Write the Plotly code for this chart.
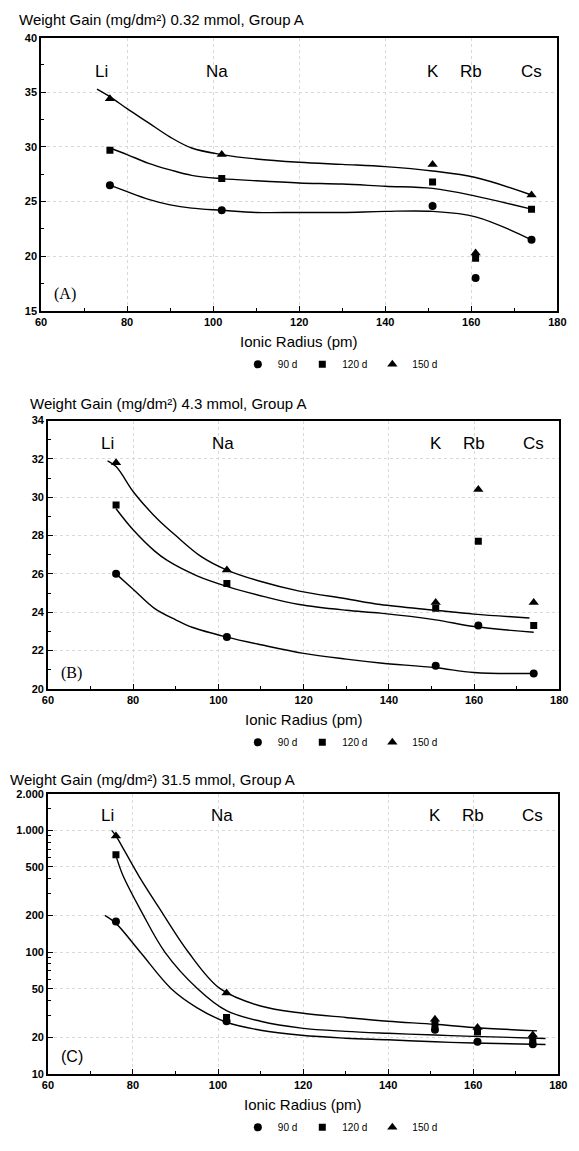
import math
import plotly.graph_objects as go

# ---------------- data ----------------
radius = [76, 102, 151, 161, 174]
elements = ["Li", "Na", "K", "Rb", "Cs"]
series_names = ["90 d", "120 d", "150 d"]
titles = ["Weight Gain (mg/dm²) 0.32 mmol, Group A",
          "Weight Gain (mg/dm²) 4.3 mmol, Group A",
          "Weight Gain (mg/dm²) 31.5 mmol, Group A"]
panel_tags = ["(A)", "(B)", "(C)"]

A_90 = [26.5, 24.2, 24.6, 18.0, 21.5]
A_120 = [29.7, 27.1, 26.8, 19.8, 24.3]
A_150 = [34.4, 29.3, 28.4, 20.3, 25.6]

B_90 = [26.0, 22.7, 21.2, 23.3, 20.8]
B_120 = [29.6, 25.5, 24.2, 27.7, 23.3]
B_150 = [31.8, 26.2, 24.5, 30.4, 24.5]

C_90 = [178, 27, 23, 18.3, 17.5]
C_120 = [630, 29, 25.5, 22, 19.5]
C_150 = [900, 46, 28, 24, 20.8]

# fitted curves
A_fit_x_150 = [73, 76, 80, 85, 90, 95, 102, 110, 120, 130, 140, 151, 161, 174]
A_fit_150 = [35.3, 34.6, 33.5, 32.2, 30.9, 29.9, 29.3, 28.9, 28.6, 28.4, 28.2, 27.8, 27.2, 25.6]
A_fit_x_120 = [76, 80, 85, 90, 95, 102, 110, 120, 130, 140, 151, 161, 174]
A_fit_120 = [29.9, 29.3, 28.5, 27.9, 27.4, 27.1, 26.9, 26.7, 26.6, 26.4, 26.2, 25.5, 24.3]
A_fit_x_90 = [76, 80, 85, 90, 95, 102, 110, 120, 130, 140, 151, 161, 174]
A_fit_90 = [26.5, 25.9, 25.2, 24.7, 24.4, 24.2, 24.0, 24.0, 24.0, 24.1, 24.1, 23.6, 21.5]

B_fit_x_150 = [74, 76, 80, 83, 86, 90, 96, 102, 110, 119, 130, 138, 151, 160, 173]
B_fit_150 = [31.9, 31.6, 30.3, 29.5, 28.8, 28.0, 26.9, 26.2, 25.6, 25.1, 24.7, 24.4, 24.1, 23.9, 23.7]
B_fit_x_120 = [76, 80, 85, 88, 95, 102, 111, 119, 130, 138, 151, 160, 174]
B_fit_120 = [29.4, 28.3, 27.2, 26.7, 25.9, 25.35, 24.8, 24.4, 24.1, 23.95, 23.6, 23.25, 22.95]
B_fit_x_90 = [76, 80, 85, 90, 94, 102, 110, 120, 130, 138, 151, 160, 174]
B_fit_90 = [26.0, 25.2, 24.2, 23.6, 23.2, 22.7, 22.3, 21.85, 21.55, 21.35, 21.1, 20.85, 20.8]

C_fit_x_150 = [75, 76, 78, 81.5, 86, 93, 100.5, 110, 120, 130, 140, 151, 160, 175]
C_fit_150 = [1000, 900, 680, 415, 235, 100, 50, 36, 31.4, 29, 27, 25.5, 24, 22.5]
C_fit_x_120 = [76, 77.6, 82, 87.5, 95.2, 102, 110, 119.6, 130, 140, 151, 160, 177]
C_fit_120 = [620, 430, 215, 100, 50, 33, 27, 23.7, 22.3, 21.5, 20.8, 20.3, 19.5]
C_fit_x_90 = [73.4, 76, 81.7, 89, 95, 102, 110, 119.6, 130, 140, 151, 160, 177]
C_fit_90 = [200, 172, 100, 50, 35, 26.5, 22.8, 20.7, 19.6, 19.0, 18.3, 17.9, 17.4]

C_tickvals = [10, 20, 50, 100, 200, 500, 1000, 2000]
C_ticktext = ["10", "20", "50", "100", "200", "500", "1.000", "2.000"]

# ---------------- layout helpers ----------------
W, H = 579, 1151
def fx(p):
    return p / W
def fy(p):
    return 1 - p / H

# pixel boxes of plot areas: (left, right, top, bottom)
boxes = [(36, 566, 32, 308), (43, 568, 419, 690), (43, 567, 796, 1079)]
title_pos = [(11, 14), (23, 402), (2, 782)]
label_shift = [-2, -1, 0, -1, 0]

points = [(A_90, A_120, A_150), (B_90, B_120, B_150), (C_90, C_120, C_150)]
fits = [((A_fit_x_90, A_fit_90), (A_fit_x_120, A_fit_120), (A_fit_x_150, A_fit_150)),
        ((B_fit_x_90, B_fit_90), (B_fit_x_120, B_fit_120), (B_fit_x_150, B_fit_150)),
        ((C_fit_x_90, C_fit_90), (C_fit_x_120, C_fit_120), (C_fit_x_150, C_fit_150))]
symbols = ["circle", "square", "triangle-up"]
msizes = [8, 7, 9]

FONT = "Liberation Sans, Arial, sans-serif"
fig = go.Figure()
annotations = []
layout = {}

for i in range(3):
    sfx = "" if i == 0 else str(i + 1)
    xa, ya = "x" + sfx, "y" + sfx
    leg = "legend" + sfx
    for (fxv, fyv) in fits[i]:
        fig.add_trace(go.Scatter(x=fxv, y=fyv, mode="lines",
                                 line=dict(color="black", width=1.4, shape="spline", smoothing=1.0),
                                 showlegend=False, hoverinfo="skip", xaxis=xa, yaxis=ya))
    for k in range(3):
        fig.add_trace(go.Scatter(x=radius, y=points[i][k], mode="markers", name=series_names[k],
                                 marker=dict(symbol=symbols[k], size=msizes[k], color="black"),
                                 legend=leg, xaxis=xa, yaxis=ya))
    l, r, t, b = boxes[i]
    common_axis = dict(showline=True, linecolor="black", linewidth=1.6, mirror=True,
                       ticks="inside", ticklen=5, tickcolor="black", zeroline=False,
                       showgrid=True, gridcolor="#d9d9d9", griddash="dot", gridwidth=1,
                       tickfont=dict(family=FONT, size=11, color="black", weight="bold"))
    layout["xaxis" + sfx] = dict(domain=[fx(l), fx(r)], range=[60, 180], tick0=60, dtick=20,
                                 anchor=ya,
                                 minor=dict(dtick=10, ticks="inside", ticklen=3, tickcolor="black", showgrid=False),
                                 **common_axis)
    if i == 0:
        yax = dict(range=[15, 40], tick0=15, dtick=5,
                   minor=dict(dtick=2.5, ticks="inside", ticklen=3, tickcolor="black", showgrid=False))
    elif i == 1:
        yax = dict(range=[20, 34], tick0=20, dtick=2,
                   minor=dict(dtick=1, ticks="inside", ticklen=3, tickcolor="black", showgrid=False))
    else:
        yax = dict(type="log", range=[1, math.log10(2000)], tickvals=C_tickvals, ticktext=C_ticktext,
                   minor=dict(tickvals=[30, 40, 60, 70, 80, 90, 300, 400, 600, 700, 800, 900, 1500],
                              ticks="inside", ticklen=3, tickcolor="black", showgrid=False))
    layout["yaxis" + sfx] = dict(domain=[fy(b), fy(t)], anchor=xa, **yax, **common_axis)

    layout[leg] = dict(x=fx(238), y=fy(b + 54), xanchor="left", yanchor="middle",
                       orientation="h", itemwidth=30, tracegroupgap=0,
                       font=dict(family=FONT, size=10, color="black"),
                       bgcolor="rgba(0,0,0,0)")

    tx, ty = title_pos[i]
    annotations.append(dict(text=titles[i], x=fx(tx), y=fy(ty), xref="paper", yref="paper",
                            xanchor="left", yanchor="middle", showarrow=False,
                            font=dict(family=FONT, size=15, color="black")))
    annotations.append(dict(text="Ionic Radius (pm)", x=fx((l + r) / 2), y=fy(b + 31),
                            xref="paper", yref="paper", xanchor="center", yanchor="middle",
                            showarrow=False, font=dict(family=FONT, size=15, color="black")))
    ey = [0.877, 0.915, 0.922][i]
    for el, xr, sh in zip(elements, radius, label_shift):
        annotations.append(dict(text=el, x=xr + sh, y=ey, xref=xa, yref=ya + " domain",
                                xanchor="center", yanchor="middle", showarrow=False,
                                font=dict(family=FONT, size=17, color="black")))
    tag_font = "Liberation Serif, Times New Roman, serif" if i < 2 else FONT
    annotations.append(dict(text=panel_tags[i], x=0.047, y=0.06, xref=xa + " domain",
                            yref=ya + " domain", xanchor="center", yanchor="middle",
                            showarrow=False, font=dict(family=tag_font, size=16, color="black")))

fig.update_layout(width=W, height=H, margin=dict(l=0, r=0, t=0, b=0),
                  paper_bgcolor="white", plot_bgcolor="white",
                  annotations=annotations, **layout)
fig.write_html("out.html", config={"displayModeBar": False},
               post_script="document.body.style.margin='0';document.body.style.overflow='hidden';")
